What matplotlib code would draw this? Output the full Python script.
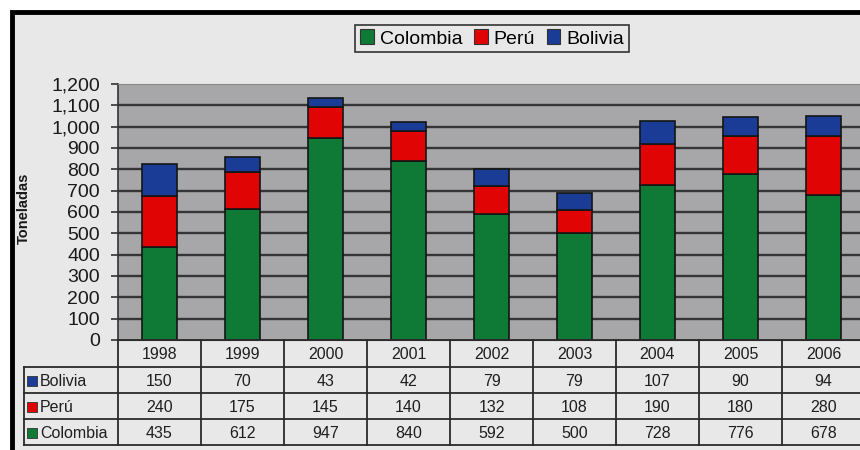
import matplotlib
matplotlib.use("Agg")
import matplotlib.pyplot as plt
from matplotlib.patches import Patch, Rectangle
import numpy as np

plt.rcParams['font.family'] = ['Liberation Sans', 'DejaVu Sans']

years = ['1998', '1999', '2000', '2001', '2002', '2003', '2004', '2005', '2006']
bolivia = [150, 70, 43, 42, 79, 79, 107, 90, 94]
peru = [240, 175, 145, 140, 132, 108, 190, 180, 280]
colombia = [435, 612, 947, 840, 592, 500, 728, 776, 678]
series_names = ['Colombia', 'Perú', 'Bolivia']
colors = {'Colombia': '#0f7a35', 'Perú': '#e00404', 'Bolivia': '#1b3c96'}
y_ticks = list(range(0, 1201, 100))
y_label = 'Toneladas'

W, H = 860, 450
fig = plt.figure(figsize=(W / 100, H / 100), dpi=100)
fig.patch.set_facecolor('white')

def fx(px):
    return px / W

def fy(py):
    return 1 - py / H

# frame background with black border
fig.patches.append(Rectangle((fx(11.5), fy(460)), fx(870), fy(11.5) - fy(460),
                             transform=fig.transFigure, facecolor='#e8e8e8',
                             edgecolor='black', linewidth=3.5, zorder=-5))

# main axes
left_px, right_px = 118, 865
top_px, bot_px = 84, 340
ax = fig.add_axes([fx(left_px), fy(bot_px), fx(right_px - left_px), fy(top_px) - fy(bot_px)])
ax.set_facecolor('#a7a7aa')
x = np.arange(len(years))
bw = 0.41
ec = '#151515'
ax.bar(x, colombia, bw, color=colors['Colombia'], edgecolor=ec, linewidth=1.2, zorder=3)
ax.bar(x, peru, bw, bottom=colombia, color=colors['Perú'], edgecolor=ec, linewidth=1.2, zorder=3)
bot2 = [c + p for c, p in zip(colombia, peru)]
ax.bar(x, bolivia, bw, bottom=bot2, color=colors['Bolivia'], edgecolor=ec, linewidth=1.2, zorder=3)
ax.set_xlim(-0.5, len(years) - 0.5)
ax.set_ylim(0, 1200)
ax.set_yticks(y_ticks)
ax.set_yticklabels([f'{v:,}' for v in y_ticks], fontsize=14, color='#1a1a1a')
ax.set_xticks([])
ax.tick_params(axis='y', length=5, width=1.2, color='#333333', pad=8)
for v in y_ticks[1:-1]:
    ax.axhline(v, color='#353535', linewidth=1.7, zorder=1)
ax.spines['top'].set_color('#8a8a8a')
ax.spines['right'].set_visible(False)
ax.spines['bottom'].set_color('#333333')
ax.spines['left'].set_color('#333333')
ax.spines['left'].set_linewidth(1.2)

fig.text(fx(24), fy(208), y_label, rotation=90, ha='center', va='center',
         fontsize=10.5, fontweight='bold', color='#1a1a1a')

# legend
handles = [Patch(facecolor=colors[n], edgecolor='#333333', linewidth=0.8) for n in series_names]
leg = fig.legend(handles, series_names, loc='center', bbox_to_anchor=(fx(492), fy(38.5)),
                 ncol=3, fontsize=14, frameon=True, fancybox=False, framealpha=1,
                 handlelength=0.7, handleheight=0.8, handletextpad=0.3,
                 columnspacing=0.6, borderpad=0.25, borderaxespad=0)
leg.get_frame().set_edgecolor('#333333')
leg.get_frame().set_facecolor('#e8e8e8')
leg.get_frame().set_linewidth(1.2)

# data table
tab_left_px = 24
colw = (right_px - left_px) / len(years)
lab_w = (left_px - tab_left_px) / colw
row_px = [340, 367, 393, 419, 445]
axt = fig.add_axes([fx(tab_left_px), fy(row_px[-1]), fx(right_px - tab_left_px),
                    fy(row_px[0]) - fy(row_px[-1])])
axt.set_xlim(-0.5 - lab_w, len(years) - 0.5)
axt.set_ylim(row_px[-1], row_px[0])
axt.axis('off')
lc = '#2a2a2a'
lw = 1.3
xl = -0.5 - lab_w
xr = len(years) - 0.5 + 0.1
axt.plot([-0.5, xr], [row_px[0], row_px[0]], color=lc, lw=lw, clip_on=False)
for r in row_px[1:]:
    axt.plot([xl, xr], [r, r], color=lc, lw=lw, clip_on=False)
axt.plot([xl, xl], [row_px[1], row_px[-1]], color=lc, lw=lw, clip_on=False)
for i in range(len(years)):
    axt.plot([i - 0.5, i - 0.5], [row_px[0], row_px[-1]], color=lc, lw=lw, clip_on=False)

row_names = ['Bolivia', 'Perú', 'Colombia']
row_vals = [bolivia, peru, colombia]
tc = '#1e1e1e'
for i, yr in enumerate(years):
    axt.text(i, (row_px[0] + row_px[1]) / 2 + 1, yr, ha='center', va='center', fontsize=11.5, color=tc)
for r, (name, vals) in enumerate(zip(row_names, row_vals)):
    yc = (row_px[r + 1] + row_px[r + 2]) / 2 + 1
    for i, v in enumerate(vals):
        axt.text(i, yc, str(v), ha='center', va='center', fontsize=11.5, color=tc)
    axt.scatter([xl + 0.1], [yc], marker='s', s=60, color=colors[name],
                edgecolor='#333333', linewidths=0.6, clip_on=False, zorder=3)
    axt.text(xl + 0.19, yc, name, ha='left', va='center', fontsize=11.5, color=tc)

fig.savefig('out.png', dpi=100, facecolor=fig.get_facecolor())
